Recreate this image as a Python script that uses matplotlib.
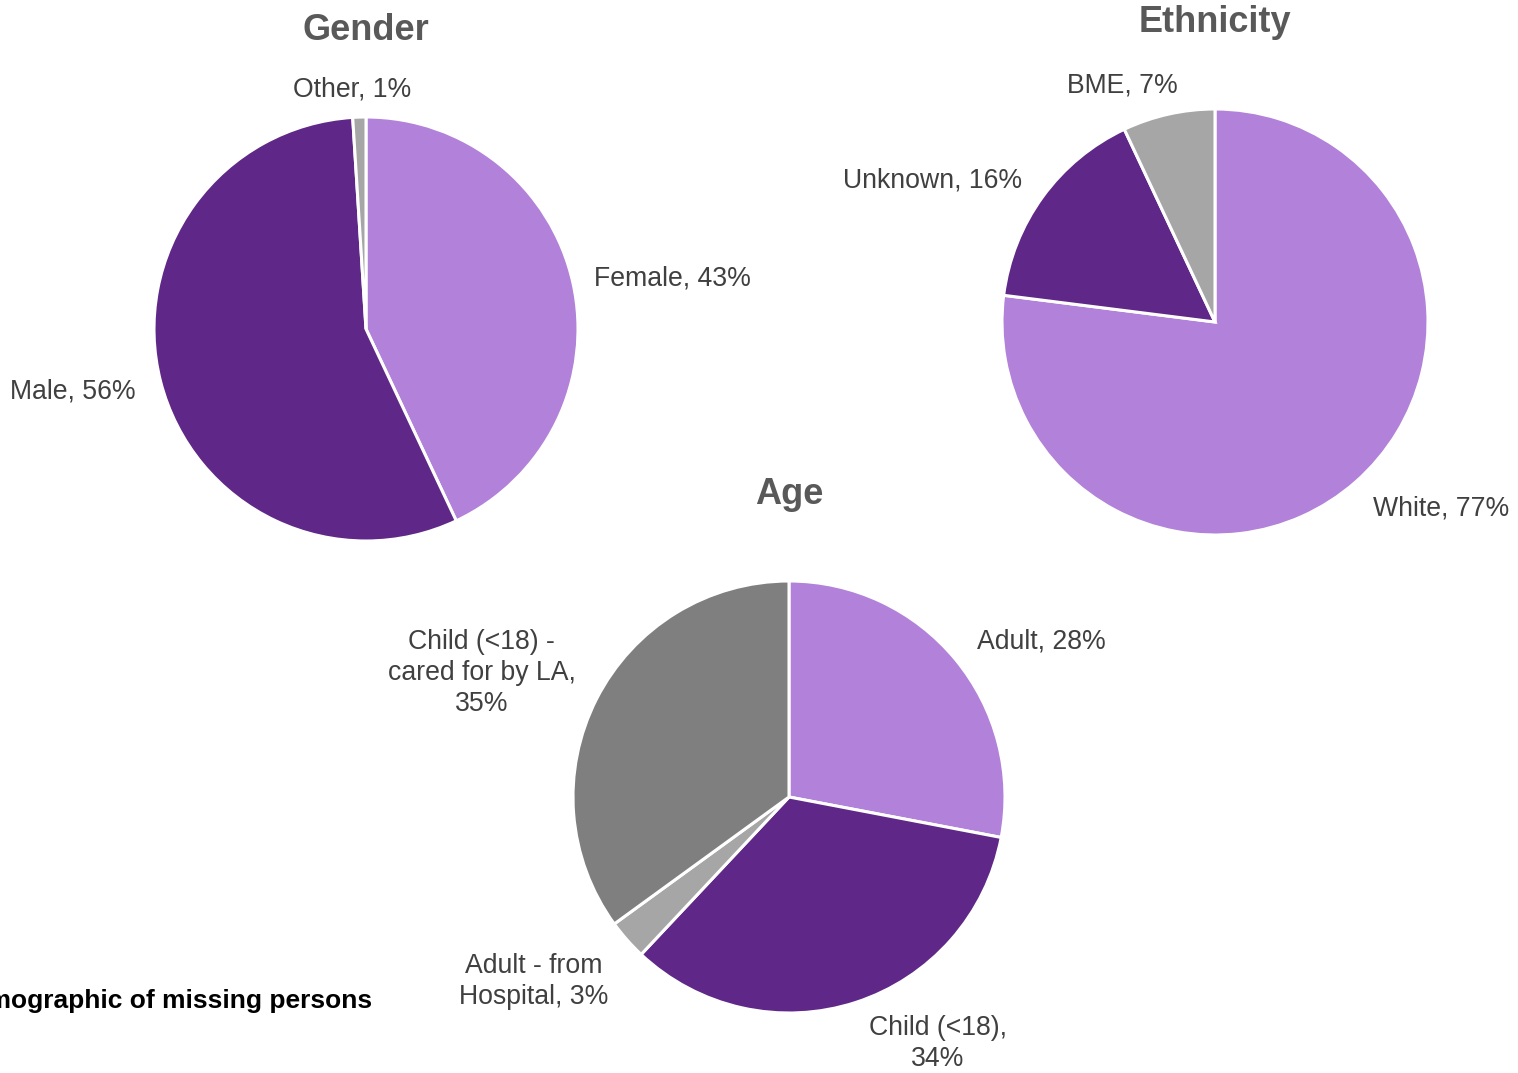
import numpy as np
import matplotlib
matplotlib.use("Agg")
import matplotlib.pyplot as plt

plt.rcParams["font.family"] = ["Liberation Sans", "DejaVu Sans"]

# -----------------------------
# Data (percent)
# -----------------------------
GENDER_NAMES = ["Female", "Male", "Other"]
GENDER_PCT = [43, 56, 1]

ETHNICITY_NAMES = ["White", "Unknown", "BME"]
ETHNICITY_PCT = [77, 16, 7]

AGE_NAMES = ["Adult", "Child (<18),\n", "Adult - from\nHospital, ",
             "Child (<18) -\ncared for by LA,\n"]
AGE_PCT = [28, 34, 3, 35]

LIGHT = "#B281D9"
DARK = "#5F2787"
GREY = "#A6A6A6"
DGREY = "#7F7F7F"
TEXT = "#404040"
TITLE = "#595959"

W, H = 1518, 1073


def draw_pie(ax, names, pct, colors, center, radius, dists, nudges=None, sep=", "):
    wedges, _ = ax.pie(pct, colors=colors, startangle=90, counterclock=False,
                       center=center, radius=radius,
                       wedgeprops=dict(edgecolor="white", linewidth=2.2))
    if nudges is None:
        nudges = [(0, 0)] * len(pct)
    for w, name, v, d, (nx, ny) in zip(wedges, names, pct, dists, nudges):
        mid = np.deg2rad((w.theta1 + w.theta2) / 2)
        c = np.cos(mid)
        x = center[0] + d * radius * c + nx
        y = center[1] + d * radius * np.sin(mid) + ny
        ha = "center" if abs(c) < 0.1 else ("left" if c > 0 else "right")
        joiner = "" if name.endswith((" ", "\n")) else sep
        ax.text(x, y, f"{name}{joiner}{v}%", ha=ha, va="center",
                multialignment="center", fontsize=19.2, color=TEXT,
                linespacing=1.25)


fig = plt.figure(figsize=(W / 100, H / 100), dpi=100)
ax = fig.add_axes([0, 0, 1, 1])

draw_pie(ax, GENDER_NAMES, GENDER_PCT, [LIGHT, DARK, GREY],
         (366, H - 329), 212, [1.1, 1.12, 1.13], [(0, 0), (0, -3), (-6, 0)])
draw_pie(ax, ETHNICITY_NAMES, ETHNICITY_PCT, [LIGHT, DARK, GREY],
         (1215, H - 322), 213, [1.17, 1.13, 1.14], [(-7, 0), (2, 0), (16, 0)])
draw_pie(ax, AGE_NAMES, AGE_PCT, [LIGHT, DARK, GREY, DGREY],
         (789, H - 797), 216, [1.13, 1.2, 1.2, 1.14],
         [(0, 0), (0, 0), (14, -13), (6, 12)])

for txt, x, y in [("Gender", 366, 30), ("Ethnicity", 1215, 23), ("Age", 789, 494)]:
    ax.text(x, H - y, txt, ha="center", va="center", fontsize=26,
            fontweight="bold", color=TITLE)

ax.text(372, H - 1001, "Demographic of missing persons", ha="right",
        va="center", fontsize=19, fontweight="bold", color="black")

ax.set_xlim(0, W)
ax.set_ylim(0, H)
ax.set_aspect("equal")
ax.axis("off")

fig.savefig("out.png", dpi=100)
